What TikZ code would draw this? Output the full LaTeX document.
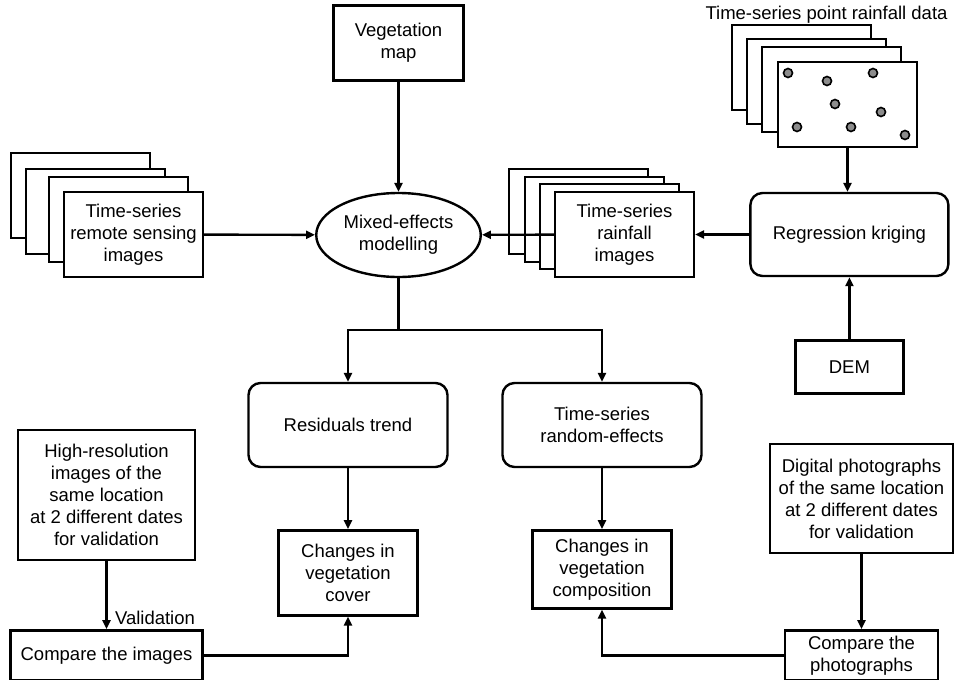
\documentclass[tikz,border=0pt]{standalone}
\usepackage{fontspec}
\setmainfont{Liberation Sans}
\usetikzlibrary{positioning,arrows.meta,shapes.geometric}

\begin{document}
\begin{tikzpicture}[
    x=1pt, y=-1pt,
    font=\fontsize{18.5}{22}\selectfont,
    line width=2.4pt,
    box/.style={
        draw,
        fill=white,
        align=center,
        inner sep=2pt
    },
    rbox/.style={
        box,
        rounded corners=12pt,
        minimum width=199pt,
        minimum height=84pt
    },
    sheet/.style={
        box,
        minimum width=139pt,
        minimum height=85pt
    },
    dot/.style={fill=black!45, line width=1.6pt},
    arrow/.style={-{Triangle[length=9pt,width=8pt]}}
]
\useasboundingbox (0,0) rectangle (954,680);

\node[draw, ellipse, align=center, minimum width=163pt, minimum height=84pt]
    (model) at (398.5,235) {Mixed-effects\\modelling};
\node[box, minimum width=130pt, minimum height=75pt, above=110pt of model]
    (vegmap) {Vegetation\\map};

% remote sensing stack
\node[sheet] (rs1) at (80.5,195.5) {};
\node[sheet] (rs2) at (95.5,211.5) {};
\node[sheet] (rs3) at (118.5,219.5) {};
\node[sheet] (rs) at (133.5,234.5) {Time-series\\remote sensing\\images};

% rainfall images stack
\node[sheet] (rain1) at (578.5,211.5) {};
\node[sheet] (rain2) at (594.5,219.5) {};
\node[sheet] (rain3) at (609.5,226.5) {};
\node[sheet] (rain) at (624.5,234.5) {Time-series\\rainfall\\images};

\node[rbox, minimum width=198pt, minimum height=83pt, right=54pt of rain]
    (kriging) {Regression kriging};
\node[box, minimum width=108pt, minimum height=53pt, below=62pt of kriging]
    (dem) {DEM};

% point rainfall stack
\node[anchor=west] (ptlabel) at (701,15) {Time-series point rainfall data};
\node[sheet] (pt1) at (801.5,67.5) {};
\node[sheet] (pt2) at (816.5,81.5) {};
\node[sheet] (pt3) at (831.5,89.5) {};
\node[sheet] (pt) at (847.5,104.5) {};
\foreach \p in {(788,73),(827,81),(873,73),(835,104),(881,112),(797,127),(851,127),(905,135)}
    \filldraw[dot] \p circle[radius=4.5pt];

\node[rbox] (resid) at (348,425) {Residuals trend};
\node[rbox] (random) at (602,425) {Time-series\\random-effects};

\node[box, minimum width=139pt, minimum height=85pt, below=61pt of resid]
    (cover) {Changes in\\vegetation\\cover};
\node[box, minimum width=139pt, minimum height=78pt, below=61pt of random]
    (comp) {Changes in\\vegetation\\composition};

\node[box, minimum width=177pt, minimum height=130pt] (hires) at (106.5,495)
    {High-resolution\\images of the\\same location\\at 2 different dates\\for validation};
\node[box, minimum width=192pt, minimum height=50pt, below=68pt of hires]
    (cmpimg) {Compare the images};

\node[box, minimum width=183pt, minimum height=109pt] (digital) at (861.5,498.5)
    {Digital photographs\\of the same location\\at 2 different dates\\for validation};
\node[box, minimum width=153pt, minimum height=50pt, below=75pt of digital]
    (cmpphoto) {Compare the\\photographs};

\coordinate (split) at (398.5,330);

\draw[arrow] (vegmap) -- (model);
\draw[arrow] (rs) -- (model);
\draw[arrow] (rain) -- (model);
\draw[arrow] (kriging) -- (rain);
\draw[arrow] (pt.south) -- (pt.south |- kriging.north);
\draw[arrow] (dem) -- (kriging);

\draw (model) -- (split);
\draw[arrow] (split) -| (resid);
\draw[arrow] (split) -| (random);

\draw[arrow] (resid) -- (cover);
\draw[arrow] (random) -- (comp);

\draw[arrow] (hires) -- node[pos=0.84, right=4pt] {Validation} (cmpimg);
\draw[arrow] (cmpimg) -| (cover);

\draw[arrow] (digital) -- (cmpphoto);
\draw[arrow] (cmpphoto) -| (comp);

\end{tikzpicture}
\end{document}
